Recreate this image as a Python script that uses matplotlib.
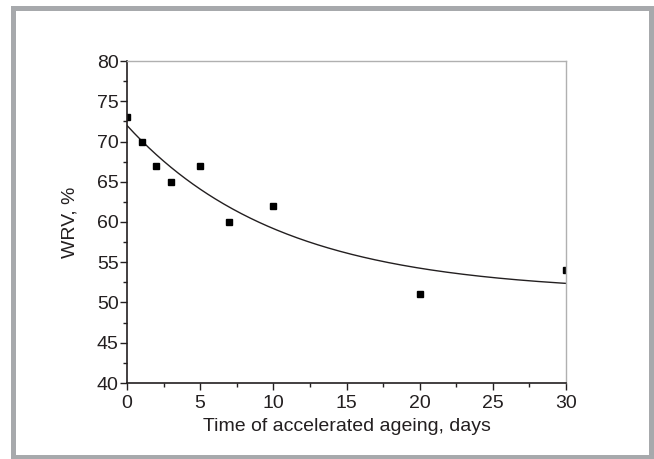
import numpy as np
import matplotlib.pyplot as plt
from matplotlib.patches import Rectangle

# measured points
days = [0, 1, 2, 3, 5, 7, 10, 20, 30]
wrv = [73, 70, 67, 65, 67, 60, 62, 51, 54]

x_ticks = [0, 5, 10, 15, 20, 25, 30]
y_ticks = [40, 45, 50, 55, 60, 65, 70, 75, 80]


def fit_exp_decay(x, y):
    """Fit y = y0 + A*exp(-x/t): scan t, solve y0 and A by least squares."""
    x = np.asarray(x, float)
    y = np.asarray(y, float)
    best = None
    for t in np.linspace(1, 60, 2000):
        M = np.column_stack([np.ones_like(x), np.exp(-x / t)])
        coef, *_ = np.linalg.lstsq(M, y, rcond=None)
        err = np.sum((M @ coef - y) ** 2)
        if best is None or err < best[0]:
            best = (err, coef[0], coef[1], t)
    return best[1:]


plt.rcParams['font.family'] = ['Liberation Sans', 'DejaVu Sans']
text_col = '#231f20'

fig = plt.figure(figsize=(6.54, 4.59), dpi=100)

# gray frame around the whole picture
fig.patches.append(Rectangle((12.5 / 654, 1 - 456.5 / 459), 638 / 654, 448.5 / 459,
                             transform=fig.transFigure, fill=False,
                             edgecolor='#a7a9ac', linewidth=3.6))

ax = fig.add_axes([127 / 654, 1 - 383 / 459, 439 / 654, 322 / 459])

y0, amp, tau = fit_exp_decay(days, wrv)
xs = np.linspace(0, 30, 300)
ax.plot(xs, y0 + amp * np.exp(-xs / tau), color='#231f20', lw=1.0)
ax.plot(days, wrv, 's', color='black', ms=5, clip_on=True)

ax.set_xlim(0, 30)
ax.set_ylim(40, 80)
ax.set_xticks(x_ticks)
ax.set_yticks(y_ticks)
ax.set_xticks(np.arange(2.5, 30, 5), minor=True)
ax.set_yticks(np.arange(42.5, 80, 5), minor=True)

for s in ['left', 'bottom']:
    ax.spines[s].set_color(text_col)
    ax.spines[s].set_linewidth(1.2)
for s in ['top', 'right']:
    ax.spines[s].set_color('#b0b0b0')
    ax.spines[s].set_linewidth(1.0)

ax.tick_params(which='major', direction='out', length=5, width=1.0,
               color=text_col, labelsize=14, labelcolor=text_col)
ax.tick_params(which='minor', direction='out', length=3, width=1.0,
               color=text_col)
ax.tick_params(axis='x', which='both', top=False, pad=3.5)
ax.tick_params(axis='y', which='both', right=False, pad=1)

ax.set_xlabel('Time of accelerated ageing, days', fontsize=14, color=text_col)
ax.xaxis.set_label_coords(0.5, -0.108)
ax.set_ylabel('WRV, %', fontsize=14, color=text_col)
ax.yaxis.set_label_coords(-0.11, 0.5)

fig.savefig('out.png', dpi=100)
